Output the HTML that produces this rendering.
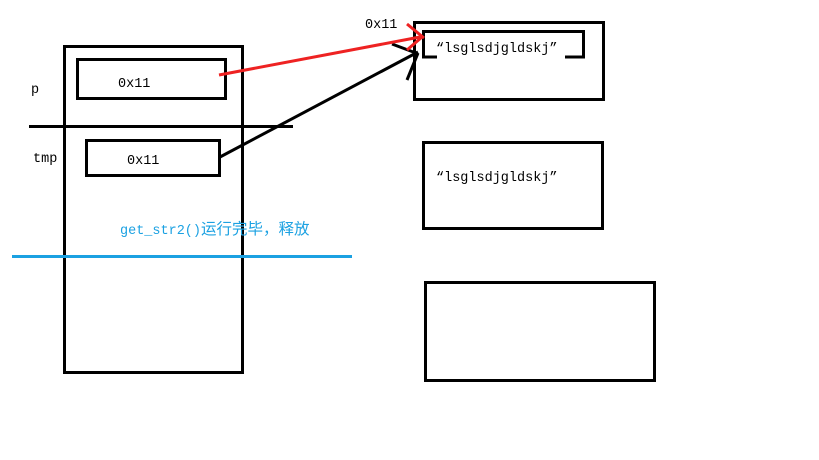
<!DOCTYPE html>
<html><head><meta charset="utf-8"><style>
html,body{margin:0;padding:0;background:#fff;}
svg{display:block;}
text{font-family:"Liberation Mono","Noto Sans CJK SC",monospace;font-size:13.5px;}
</style></head><body>
<svg width="819" height="460" xmlns="http://www.w3.org/2000/svg">
<rect x="0" y="0" width="819" height="460" fill="#fff"/>
<g fill="none" stroke="#000" stroke-width="3">
<rect x="64.5" y="46.5" width="178" height="326"/>
<rect x="77.5" y="59.5" width="148" height="39"/>
<rect x="86.5" y="140.5" width="133" height="35"/>
<rect x="414.5" y="22.5" width="189" height="77"/>
<rect x="423.5" y="142.5" width="179" height="86"/>
<rect x="425.5" y="282.5" width="229" height="98"/>
<polyline points="437,57 423.5,57 423.5,31.5 583.5,31.5 583.5,57 565,57"/>
</g>
<line x1="29" y1="126.5" x2="293" y2="126.5" stroke="#000" stroke-width="3"/>
<line x1="12" y1="256.5" x2="352" y2="256.5" stroke="#1ba1e2" stroke-width="3"/>
<g stroke="#000" stroke-width="3" fill="none">
<line x1="220" y1="157" x2="418" y2="52"/>
<line x1="392" y1="44" x2="416" y2="53"/>
<line x1="407" y1="80" x2="418" y2="53"/>
</g>
<g stroke="#ee2222" stroke-width="3" fill="none">
<line x1="219" y1="75" x2="420" y2="37"/>
<line x1="407" y1="24" x2="424" y2="38"/>
<line x1="407" y1="50" x2="422" y2="37"/>
</g>
<text x="118" y="87">0x11</text>
<text x="127" y="164">0x11</text>
<text x="31" y="93">p</text>
<text x="33" y="162">tmp</text>
<text x="365" y="28">0x11</text>
<text x="436" y="52">“lsglsdjgldskj”</text>
<text x="436" y="181">“lsglsdjgldskj”</text>
<text x="120" y="234" fill="#1ba1e2">get_str2()<tspan font-size="15.5">运行完毕，释放</tspan></text>
</svg>
</body></html>
